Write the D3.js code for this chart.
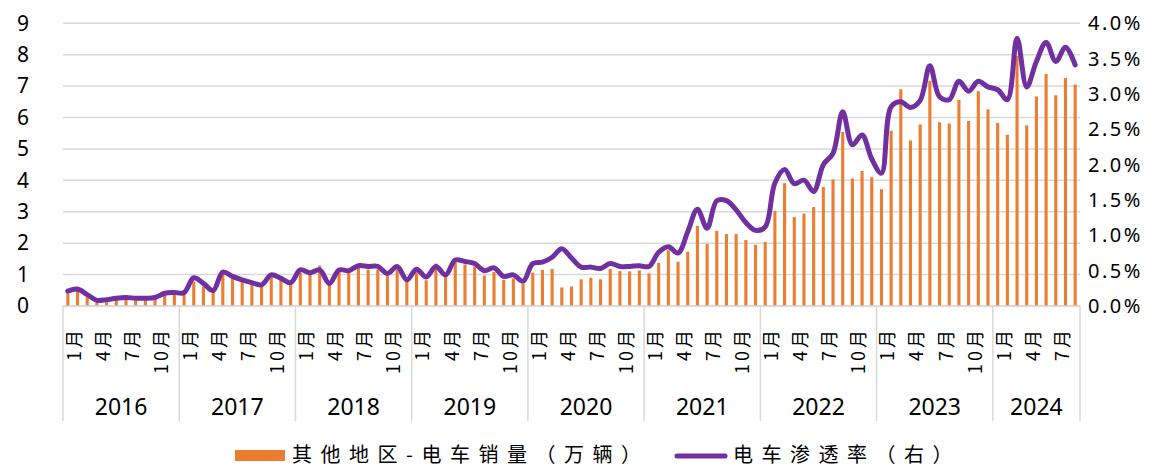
<!DOCTYPE html>
<html>
<head>
<meta charset="utf-8">
<script src="https://cdn.jsdelivr.net/npm/d3@7"></script>
<style>
  body { margin: 0; background: #fff; }
  svg { display: block; }
</style>
</head>
<body>
<svg id="chart" width="1157" height="468"></svg>
<script>
// years shown on the axis, last year stops at September
const years = [2016, 2017, 2018, 2019, 2020, 2021, 2022, 2023, 2024];
const lastMonth = 9;
const monthTicks = [1, 4, 7, 10];

// 其他地区-电车销量（万辆）
const sales = [
    0.40, 0.48, 0.28, 0.12, 0.16, 0.20, 0.22, 0.20, 0.20, 0.22, 0.36, 0.36,
    0.38, 0.78, 0.62, 0.45, 1.08, 0.92, 0.80, 0.70, 0.62, 0.92, 0.85, 0.74,
    1.05, 1.00, 1.29, 0.68, 1.08, 1.08, 1.22, 1.16, 1.16, 0.95, 1.16, 0.78,
    1.08, 0.82, 1.35, 0.92, 1.38, 1.32, 1.26, 0.97, 1.08, 0.83, 0.88, 0.70,
    1.06, 1.15, 1.18, 0.59, 0.62, 0.85, 0.90, 0.85, 1.18, 1.11, 1.10, 1.13,
    1.04, 1.37, 1.77, 1.41, 1.73, 2.55, 1.98, 2.39, 2.29, 2.29, 2.10, 1.95,
    2.04, 3.03, 3.91, 2.83, 2.94, 3.15, 3.79, 4.03, 5.54, 4.06, 4.30, 4.10,
    3.72, 5.58, 6.90, 5.27, 5.78, 7.17, 5.85, 5.81, 6.56, 5.89, 6.84, 6.26,
    5.83, 5.45, 7.96, 5.75, 6.67, 7.39, 6.71, 7.26, 7.05
];

// 电车渗透率（右）, in %
const share = [
    0.21, 0.24, 0.16, 0.08, 0.09, 0.11, 0.12, 0.11, 0.11, 0.12, 0.18, 0.19,
    0.19, 0.40, 0.32, 0.22, 0.48, 0.42, 0.37, 0.33, 0.30, 0.44, 0.39, 0.33,
    0.51, 0.47, 0.51, 0.32, 0.51, 0.50, 0.57, 0.56, 0.56, 0.46, 0.56, 0.37,
    0.52, 0.41, 0.56, 0.44, 0.65, 0.63, 0.60, 0.50, 0.54, 0.42, 0.44, 0.35,
    0.60, 0.62, 0.69, 0.81, 0.68, 0.55, 0.55, 0.53, 0.60, 0.56, 0.56, 0.57,
    0.56, 0.76, 0.84, 0.75, 1.05, 1.37, 1.10, 1.49, 1.49, 1.36, 1.18, 1.07,
    1.12, 1.74, 1.93, 1.73, 1.78, 1.62, 2.00, 2.16, 2.75, 2.28, 2.42, 2.08,
    1.88, 2.82, 2.89, 2.81, 2.91, 3.40, 2.96, 2.92, 3.18, 3.04, 3.18, 3.10,
    3.06, 2.92, 3.79, 3.10, 3.46, 3.73, 3.46, 3.66, 3.41
];

const legendLabels = ["其他地区-电车销量（万辆）", "电车渗透率（右）"];

const BAR_COLOR = "#ED7D31";
const LINE_COLOR = "#7030A0";
const GRID_COLOR = "#d9d9d9";
const NUM_FONT = "'Noto Sans', sans-serif";
const CJK_FONT = "'Noto Sans CJK SC', sans-serif";

// one entry per month
const months = [];
years.forEach(function (yr, k) {
    const n = (k === years.length - 1) ? lastMonth : 12;
    for (let m = 1; m <= n; m++) {
        months.push({ year: yr, month: m });
    }
});
months.forEach(function (d, i) {
    d.i = i;
    d.sales = sales[i];
    d.share = share[i] / 100;
});

const plotLeft = 63, plotRight = 1080, plotTop = 23.3, plotBottom = 306;
const svg = d3.select("#chart");

const x = d3.scaleBand()
    .domain(months.map(d => d.i))
    .range([plotLeft, plotRight])
    .paddingInner(0.68)
    .paddingOuter(0.34);
const half = x.step() * x.paddingInner() / 2;

const y = d3.scaleLinear().domain([0, 9]).range([plotBottom, plotTop]);
const y2 = d3.scaleLinear().domain([0, 0.04]).range([plotBottom, plotTop]);

// gridlines
svg.append("g")
    .selectAll("line")
    .data(y.ticks(9))
    .join("line")
    .attr("x1", plotLeft)
    .attr("x2", plotRight)
    .attr("y1", d => y(d))
    .attr("y2", d => y(d))
    .attr("stroke", GRID_COLOR)
    .attr("stroke-width", 1.5);

// left axis
const gLeft = svg.append("g")
    .attr("transform", `translate(${plotLeft},0)`)
    .call(d3.axisLeft(y).ticks(9).tickSize(0).tickPadding(34));
gLeft.select(".domain").remove();
gLeft.selectAll("text")
    .style("font-family", NUM_FONT)
    .style("font-size", "21px")
    .attr("fill", "#000");

// right axis
const gRight = svg.append("g")
    .attr("transform", `translate(${plotRight},0)`)
    .call(d3.axisRight(y2).ticks(8).tickFormat(d3.format(".1%")).tickSize(0).tickPadding(8));
gRight.select(".domain").remove();
gRight.selectAll("text")
    .style("font-family", NUM_FONT)
    .style("font-size", "20px")
    .style("letter-spacing", "2.5px")
    .attr("fill", "#000");

// bars
svg.append("g")
    .selectAll("rect")
    .data(months)
    .join("rect")
    .attr("x", d => x(d.i))
    .attr("width", x.bandwidth())
    .attr("y", d => y(d.sales))
    .attr("height", d => plotBottom - y(d.sales))
    .attr("fill", BAR_COLOR);

// month labels, rotated to read upwards
const gMonth = svg.append("g")
    .attr("transform", `translate(0,${plotBottom})`)
    .call(d3.axisBottom(x)
        .tickValues(months.filter(d => monthTicks.includes(d.month)).map(d => d.i))
        .tickFormat(i => months[i].month + "月")
        .tickSize(0));
gMonth.select(".domain").remove();
gMonth.selectAll("text")
    .attr("transform", "rotate(-90)")
    .attr("text-anchor", "end")
    .attr("x", -21)
    .attr("y", 0)
    .attr("dy", "0.72em")
    .style("font-family", CJK_FONT)
    .style("font-size", "18px")
    .style("letter-spacing", "3px")
    .attr("fill", "#000");

// x baseline and year separators
svg.append("line")
    .attr("x1", plotLeft).attr("x2", plotRight)
    .attr("y1", plotBottom).attr("y2", plotBottom)
    .attr("stroke", GRID_COLOR)
    .attr("stroke-width", 1.5);

const yearStarts = months.filter(d => d.month === 1).map(d => x(d.i) - half);
svg.append("g")
    .selectAll("line")
    .data(yearStarts.concat([plotRight]))
    .join("line")
    .attr("x1", d => d)
    .attr("x2", d => d)
    .attr("y1", plotBottom)
    .attr("y2", 421)
    .attr("stroke", GRID_COLOR)
    .attr("stroke-width", 1.5);

svg.append("g")
    .selectAll("text")
    .data(years)
    .join("text")
    .attr("x", function (yr) {
        const ms = months.filter(d => d.year === yr);
        const a = x(ms[0].i) - half;
        const b = x(ms[ms.length - 1].i) + x.bandwidth() + half;
        return (a + b) / 2;
    })
    .attr("y", 415)
    .attr("text-anchor", "middle")
    .style("font-family", NUM_FONT)
    .style("font-size", "23px")
    .text(d => d);

// penetration line
const line = d3.line()
    .x(d => x(d.i) + x.bandwidth() / 2)
    .y(d => y2(d.share))
    .curve(d3.curveCatmullRom.alpha(0.5));

svg.append("path")
    .datum(months)
    .attr("d", line)
    .attr("fill", "none")
    .attr("stroke", LINE_COLOR)
    .attr("stroke-width", 5)
    .attr("stroke-linejoin", "round")
    .attr("stroke-linecap", "round");

// legend
const legend = svg.append("g");
legend.append("rect")
    .attr("x", 235).attr("y", 450)
    .attr("width", 50).attr("height", 11)
    .attr("fill", BAR_COLOR);
legend.append("text")
    .attr("x", 292).attr("y", 462)
    .style("font-family", CJK_FONT)
    .style("font-size", "20px")
    .style("letter-spacing", "8.5px")
    .text(legendLabels[0]);
legend.append("line")
    .attr("x1", 677).attr("x2", 725)
    .attr("y1", 456).attr("y2", 456)
    .attr("stroke", LINE_COLOR)
    .attr("stroke-width", 5)
    .attr("stroke-linecap", "round");
legend.append("text")
    .attr("x", 733).attr("y", 462)
    .style("font-family", CJK_FONT)
    .style("font-size", "20px")
    .style("letter-spacing", "8.5px")
    .text(legendLabels[1]);
</script>
</body>
</html>
